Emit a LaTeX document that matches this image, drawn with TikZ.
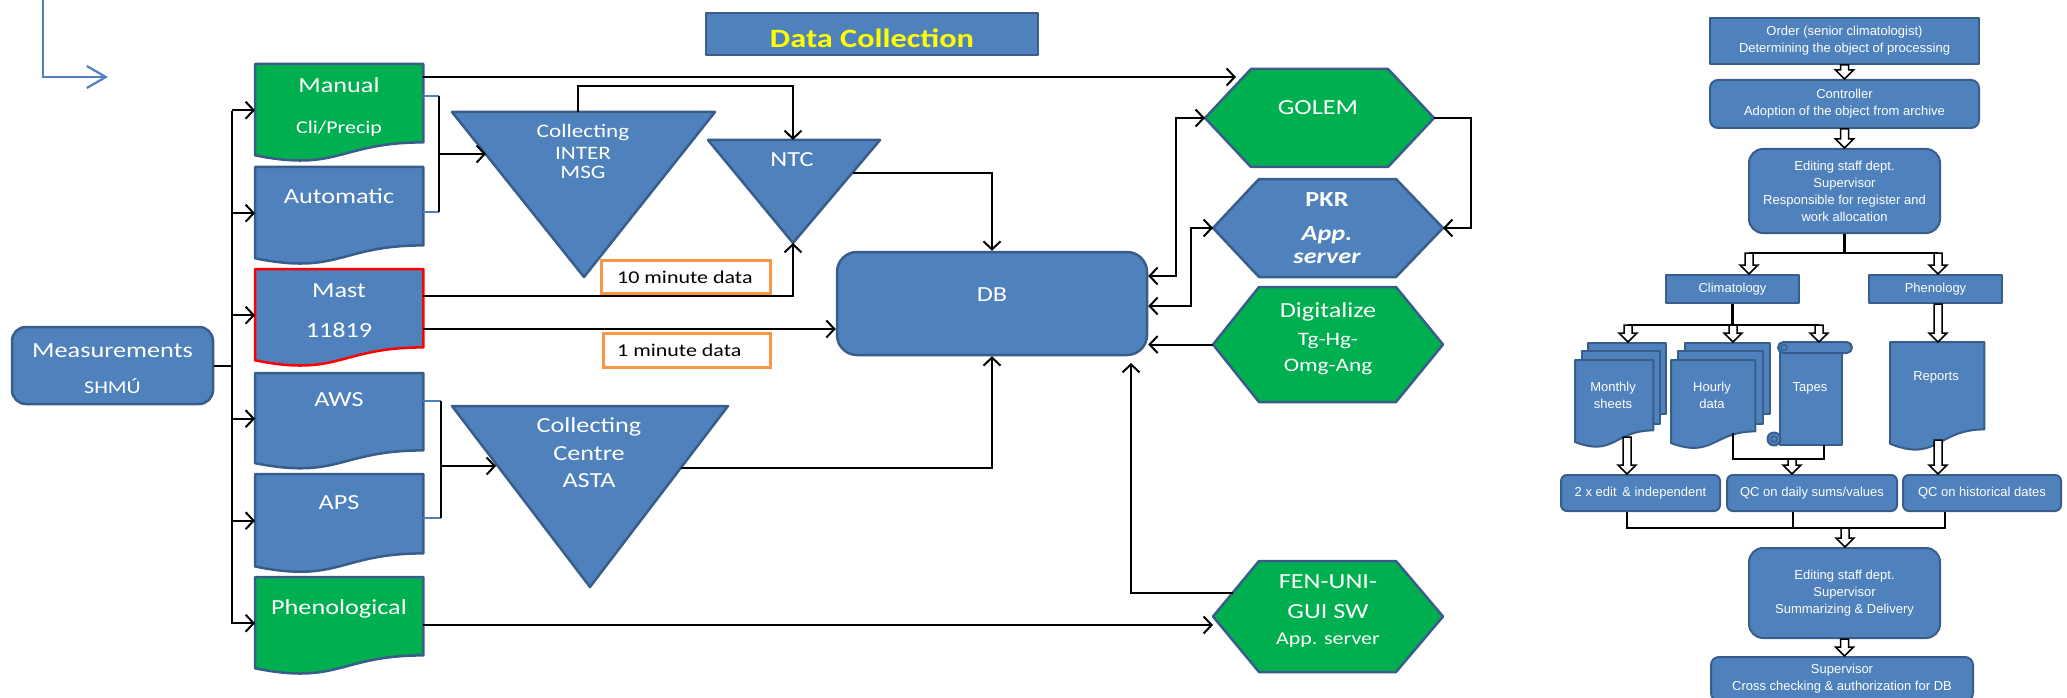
\documentclass[tikz,border=0pt]{standalone}
\usepackage{fontspec}
\setmainfont{Carlito}[FakeStretch=1.22]
\newfontfamily\rfont{Liberation Sans}
\usetikzlibrary{arrows.meta,calc}
\definecolor{fblue}{HTML}{4F81BD}
\definecolor{bblue}{HTML}{385D8A}
\definecolor{fgreen}{HTML}{00B050}
\definecolor{orng}{HTML}{F79646}
\definecolor{ttlyel}{HTML}{FFFF00}
\newcommand\szA{\fontsize{21.5pt}{25pt}\selectfont}
\newcommand\szB{\fontsize{18pt}{21pt}\selectfont}
\newcommand\szC{\fontsize{19pt}{22pt}\selectfont}
\newcommand\szT{\fontsize{26.5pt}{30pt}\selectfont}
\newcommand\szR{\rfont\fontsize{13pt}{17pt}\selectfont}
\newcommand\docshape[2]{%
  \path[#2] (#1.north west) -- (#1.north east) -- (#1.south east)
    .. controls (#1.south) and ($(#1.south)!-0.381!(#1.north)$) ..
    ($(#1.south west)!-0.1646!(#1.north west)$) -- cycle;}
\newcommand\hexa[8]{%
  \coordinate (#1-w) at (#2,{(#6+#7)/2});
  \coordinate (#1-e) at (#5,{(#6+#7)/2});
  \path[#8] (#1-w) -- (#3,#6) -- (#4,#6) -- (#1-e) -- (#4,#7) -- (#3,#7) -- cycle;}
\tikzset{
  shp/.style={fill=fblue, draw=bblue, line width=2.5pt, line join=round},
  gshp/.style={shp, fill=fgreen},
  box/.style={shp, inner sep=0pt},
  docn/.style={inner sep=0pt, anchor=north west, minimum width=168pt},
  tl/.style={inner sep=0pt, text=white, text depth=0pt},
  tA/.style={tl, font=\szA, text height=13.85pt},
  tB/.style={tl, font=\szB, text height=11.6pt},
  tC/.style={tl, font=\szC, text height=12.2pt},
  tT/.style={tl, font=\bfseries\szT, text height=17.1pt, text=ttlyel},
  obox/.style={draw=orng, fill=white, line width=3pt, inner sep=0pt},
  conn/.style={draw=black, line width=2pt},
  arr/.style={conn, -{Straight Barb[length=8pt,width=17pt]}},
  barr/.style={conn, {Straight Barb[length=8pt,width=17pt]}-{Straight Barb[length=8pt,width=17pt]}},
  stub/.style={draw=fblue, line width=1.8pt},
  rshp/.style={fill=fblue, draw=bblue, line width=2pt, line join=round},
  rbox/.style={rshp, inner sep=0pt, text=white, font=\szR, align=center},
  rtxt/.style={inner sep=0pt, text=white, font=\szR, align=center},
  rconn/.style={draw=black, line width=2.2pt},
  hollow/.style={draw=black, fill=white, line width=1.5pt, line join=miter,
    to path={let \p1=(\tikztostart), \p2=(\tikztotarget) in
      (\x1-4pt,\y1) -- (\x1-4pt,\y2+9pt) -- (\x1-9pt,\y2+9pt) -- (\x1,\y2)
      -- (\x1+9pt,\y2+9pt) -- (\x1+4pt,\y2+9pt) -- (\x1+4pt,\y1) -- cycle}},
}
\begin{document}
\begin{tikzpicture}[x=1pt,y=-1pt]
\path[use as bounding box] (0,0) rectangle (2067,698);
\clip (0,0) rectangle (2067,698);

% ---------- top-left bent arrow
\coordinate (ba-s) at (43,-3);
\coordinate (ba-e) at (108,77);
\draw[draw=fblue, line width=2.2pt, -{Straight Barb[length=19pt,width=22pt]}] (ba-s) |- (ba-e);

% ---------- title
\node[box, minimum width=332pt, minimum height=42pt] (title) at (872,34) {};
\node[tT] (title-t) at (872,38.5) {Data Collection};

% ---------- measurements
\node[box, rounded corners=14pt, minimum width=201pt, minimum height=77pt] (meas) at (112.5,365.5) {};
\node[tA] (meas-t1) at (112.5,350.5) {Measurements};
\node[tB] (meas-t2) at (112.5,387.5) {SHMÚ};

% ---------- document boxes
\node[docn, minimum height=78pt] (manual) at (255,64) {};
\node[docn, minimum height=78pt] (auto) at (255,167) {};
\node[docn, minimum height=78pt] (mast) at (255,269) {};
\node[docn, minimum height=77pt] (aws) at (255,373) {};
\node[docn, minimum height=79pt] (aps) at (255,474) {};
\node[docn, minimum height=78pt] (pheno) at (255,577) {};
\docshape{manual}{gshp}
\docshape{auto}{shp}
\docshape{mast}{shp, draw=red}
\docshape{aws}{shp}
\docshape{aps}{shp}
\docshape{pheno}{gshp}
\node[tA] (manual-t1) at (339,85.5) {Manual};
\node[tB] (manual-t2) at (339,127.5) {Cli/Precip};
\node[tA] (auto-t) at (339,196.5) {Automatic};
\node[tA] (mast-t1) at (339,290.5) {Mast};
\node[tA] (mast-t2) at (339,331) {11819};
\node[tA] (aws-t) at (339,400) {AWS};
\node[tA] (aps-t) at (339,503) {APS};
\node[tA] (pheno-t) at (339,608) {Phenological};

% ---------- triangles
\coordinate (in-a) at (452,112); \coordinate (in-b) at (715,112); \coordinate (in-c) at (584,277);
\path[shp] (in-a) -- (in-b) -- (in-c) -- cycle;
\node[tC] (in-t1) at (583,131) {Collecting};
\node[tC] (in-t2) at (583,153) {INTER};
\node[tC] (in-t3) at (583,172.5) {MSG};
\coordinate (ntc-a) at (708,140); \coordinate (ntc-b) at (880,140); \coordinate (ntc-c) at (793,243);
\path[shp] (ntc-a) -- (ntc-b) -- (ntc-c) -- cycle;
\node[tA] (ntc-t) at (792,160) {NTC};
\coordinate (as-a) at (452,406); \coordinate (as-b) at (728,406); \coordinate (as-c) at (590,587);
\path[shp] (as-a) -- (as-b) -- (as-c) -- cycle;
\node[tA] (as-t1) at (589,425.5) {Collecting};
\node[tA] (as-t2) at (589,454) {Centre};
\node[tA] (as-t3) at (589,481) {ASTA};

% ---------- DB
\node[box, rounded corners=20pt, minimum width=310pt, minimum height=103pt] (db) at (992,303.5) {};
\node[tA] (db-t) at (992,295) {DB};

% ---------- orange labels
\node[obox, minimum width=169pt, minimum height=33pt] (ten) at (685.5,276.5) {};
\node[tB, text=black, anchor=west] (ten-t) at (617,277.5) {10 minute data};
\node[obox, minimum width=167pt, minimum height=34pt] (one) at (686.5,350) {};
\node[tB, text=black, anchor=west] (one-t) at (617,350.5) {1 minute data};

% ---------- hexagons
\hexa{golem}{1205}{1251}{1388}{1434}{69}{167}{gshp}
\node[tA] (golem-t) at (1318,107.5) {GOLEM};
\hexa{pkr}{1213}{1259}{1396}{1443}{179}{277}{shp}
\node[tA, font=\bfseries\szA] (pkr-t1) at (1327,200) {PKR};
\node[tA, font=\bfseries\itshape\szA] (pkr-t2) at (1327,234) {App.};
\node[tA, font=\bfseries\itshape\szA] (pkr-t3) at (1327,257) {server};
\hexa{dig}{1213}{1259}{1396}{1443}{287}{402}{gshp}
\node[tA] (dig-t1) at (1328,310.5) {Digitalize};
\node[tC] (dig-t2) at (1328,339.5) {Tg-Hg-};
\node[tC] (dig-t3) at (1328,365.5) {Omg-Ang};
\hexa{fen}{1213}{1259}{1396}{1443}{561}{672}{gshp}
\node[tA] (fen-t1) at (1328,582) {FEN-UNI-};
\node[tA] (fen-t2) at (1328,612) {GUI SW};
\node[tB] (fen-t3) at (1328,639) {App. server};

% ---------- left connectors
\coordinate (bus-t) at (232,111);
\coordinate (bus-b) at (232,624);
\draw[conn] (bus-t) -- (bus-b);
\draw[conn] (meas.east) -- (meas.east -| bus-t);
\foreach \n in {manual,auto,mast,aws,aps,pheno}{
  \coordinate (\n-in) at ($(\n.west)+(0,7)$);
  \draw[arr] (bus-t |- \n-in) -- (\n-in);
}
\coordinate (man-out) at ($(manual.north east)+(0,13)$);
\coordinate (golem-in) at (1236,77);
\draw[arr] (man-out) -- (golem-in);

\coordinate (br1a) at ($(manual.north east)+(0,32)$);
\coordinate (br1b) at ($(auto.north east)+(0,45)$);
\coordinate (br1x) at (439,154);
\coordinate (in-l) at (486,154);
\draw[stub] (br1a) -- (br1a -| br1x);
\draw[stub] (br1b) -- (br1b -| br1x);
\draw[conn] (br1a -| br1x) -- (br1b -| br1x);
\draw[arr] (br1x) -- (in-l);

\coordinate (br2a) at ($(aws.north east)+(0,28)$);
\coordinate (br2b) at ($(aps.north east)+(0,44)$);
\coordinate (br2x) at (441,466);
\coordinate (as-l) at (496,466);
\draw[stub] (br2a) -- (br2a -| br2x);
\draw[stub] (br2b) -- (br2b -| br2x);
\draw[conn] (br2a -| br2x) -- (br2b -| br2x);
\draw[arr] (br2x) -- (as-l);

\coordinate (in-top) at (578,112);
\coordinate (r1) at (0,86);
\coordinate (ntc-top) at (793,140);
\draw[arr] (in-top) -- (in-top |- r1) -| (ntc-top);
\coordinate (ntc-r) at (853,173);
\draw[arr] (ntc-r) -| (db.north);
\coordinate (mast-o1) at ($(mast.north east)+(0,27)$);
\draw[arr] (mast-o1) -| (ntc-c);
\coordinate (mast-o2) at ($(mast.north east)+(0,60)$);
\draw[arr] (mast-o2) -- (mast-o2 -| db.west);
\coordinate (as-r) at (681,468);
\draw[arr] (as-r) -| (db.south);
\coordinate (ph-o) at ($(pheno.north east)+(0,48)$);
\draw[arr] (ph-o) -- (ph-o -| fen-w);
\coordinate (fen-u) at (1233,593);
\coordinate (db-b2) at (1131,363);
\draw[arr] (fen-u) -| (db-b2);
\draw[arr] (dig-w) -- (dig-w -| db.east);
\coordinate (db-e1) at ($(db.east)+(0,-27.5)$);
\coordinate (db-e2) at ($(db.east)+(0,2.5)$);
\coordinate (j1x) at (1176,0);
\coordinate (j2x) at (1191,0);
\coordinate (j3x) at (1471,0);
\draw[barr] (db-e1) -- (db-e1 -| j1x) |- (golem-w);
\draw[barr] (db-e2) -- (db-e2 -| j2x) |- (pkr-w);
\draw[arr] (golem-e) -- (golem-e -| j3x) |- (pkr-e);

% ---------- right diagram
\node[rbox, minimum width=269pt, minimum height=46pt] (order) at (1844.5,41) {Order (senior climatologist)\\Determining the object of processing};
\node[rbox, rounded corners=8pt, minimum width=269pt, minimum height=48pt] (ctrl) at (1844.5,104) {Controller\\Adoption of the object from archive};
\node[rbox, rounded corners=14pt, minimum width=191pt, minimum height=84pt] (ed1) at (1844.5,191) {Editing staff dept.\\Supervisor\\Responsible for register and\\work allocation};
\node[rbox, minimum width=133pt, minimum height=28pt] (clim) at (1732.5,289) {Climatology};
\node[rbox, minimum width=133pt, minimum height=28pt] (phen) at (1935.5,289) {Phenology};

% monthly sheets
\node[rshp, inner sep=0pt, anchor=north west, minimum width=78pt, minimum height=71pt] (mon-p3) at (1587,342) {};
\node[rshp, inner sep=0pt, anchor=north west, minimum width=78pt, minimum height=73pt] (mon-p2) at (1581,350) {};
\node[inner sep=0pt, anchor=north west, minimum width=78pt, minimum height=70pt] (mon) at (1575,360) {};
\docshape{mon}{rshp}
\node[rtxt] (mon-t) at (1613,395) {Monthly\\sheets};
% hourly data
\node[rshp, inner sep=0pt, anchor=north west, minimum width=85pt, minimum height=71pt] (hr-p3) at (1684,342) {};
\node[rshp, inner sep=0pt, anchor=north west, minimum width=85pt, minimum height=73pt] (hr-p2) at (1677,350) {};
\node[inner sep=0pt, anchor=north west, minimum width=84pt, minimum height=71pt] (hr) at (1671,360) {};
\docshape{hr}{rshp}
\node[rtxt] (hr-t) at (1712,395) {Hourly\\data};
% tapes
\path[rshp] (1780,346) rectangle (1842,445);
\path[rshp] (1774,439) circle (6.5pt);
\path[draw=bblue, line width=1.2pt] (1774,439) circle (3pt);
\path[rshp, rounded corners=5.5pt] (1778,342) rectangle (1852,353);
\path[draw=bblue, line width=1.2pt] (1784,347.5) circle (3pt);
\coordinate (tapes-top) at (1819,342);
\node[rtxt] (tapes-t) at (1810,388) {Tapes};
% reports
\node[inner sep=0pt, anchor=north west, minimum width=94pt, minimum height=87pt] (rep) at (1890,342) {};
\docshape{rep}{rshp}
\node[rtxt] (rep-t) at (1936,377) {Reports};

\node[rbox, rounded corners=6pt, minimum width=159pt, minimum height=36pt] (qc1) at (1640.5,493) {2 x edit \,\& independent};
\node[rbox, rounded corners=6pt, minimum width=170pt, minimum height=36pt] (qc2) at (1812,493) {QC on daily sums/values};
\node[rbox, rounded corners=6pt, minimum width=158pt, minimum height=36pt] (qc3) at (1982,493) {QC on historical dates};
\node[rbox, rounded corners=14pt, minimum width=191pt, minimum height=90pt] (ed2) at (1844.5,593) {Editing staff dept.\\Supervisor\\Summarizing \& Delivery};
\node[rbox, rounded corners=8pt, minimum width=262pt, minimum height=44pt] (sup) at (1842,679) {Supervisor\\Cross checking \& authorization for DB};

% right connectors
\coordinate (s1) at (1844.5,253);
\coordinate (s1l) at (1749,253);
\coordinate (s1r) at (1938,253);
\draw[rconn] (ed1.south) -- (s1);
\draw[rconn] (s1l) -- (s1r);
\coordinate (s2) at (1733,325);
\coordinate (s2l) at (1628,325);
\coordinate (s2r) at (1819,325);
\draw[rconn] (clim.south) -- (clim.south |- s2);
\draw[rconn] (s2l) -- (s2r);
\coordinate (hr-o) at (1733,433);
\coordinate (qd-j) at (1792,459);
\coordinate (tp-o) at (1824,445);
\draw[rconn] (hr-o) |- (qd-j) -| (tp-o);
\coordinate (m1) at (1627,528);
\coordinate (m2) at (1793,528);
\coordinate (m3) at (1945,528);
\coordinate (mj) at (1845,528);
\draw[rconn] (m1 |- qc1.south) -- (m1) -- (m3) -- (m3 |- qc3.south);
\draw[rconn] (m2 |- qc2.south) -- (m2);
\coordinate (mon-o) at (1627,437);
\coordinate (rep-o) at (1938,440);

\path[hollow] (order.south) to (ctrl.north);
\path[hollow] (ctrl.south) to (ed1.north);
\path[hollow] (s1l) to (s1l |- clim.north);
\path[hollow] (s1r) to (s1r |- phen.north);
\path[hollow] (s2l) to (s2l |- mon-p3.north);
\path[hollow] (s2) to (s2 |- hr-p3.north);
\path[hollow] (s2r) to (tapes-top);
\path[hollow] (phen.south -| s1r) to (s1r |- rep.north);
\path[hollow] (mon-o) to (mon-o |- qc1.north);
\path[hollow] (qd-j) to (qd-j |- qc2.north);
\path[hollow] (rep-o) to (rep-o |- qc3.north);
\path[hollow] (mj) to (mj |- ed2.north);
\path[hollow] (ed2.south) to (sup.north);
\end{tikzpicture}
\end{document}
